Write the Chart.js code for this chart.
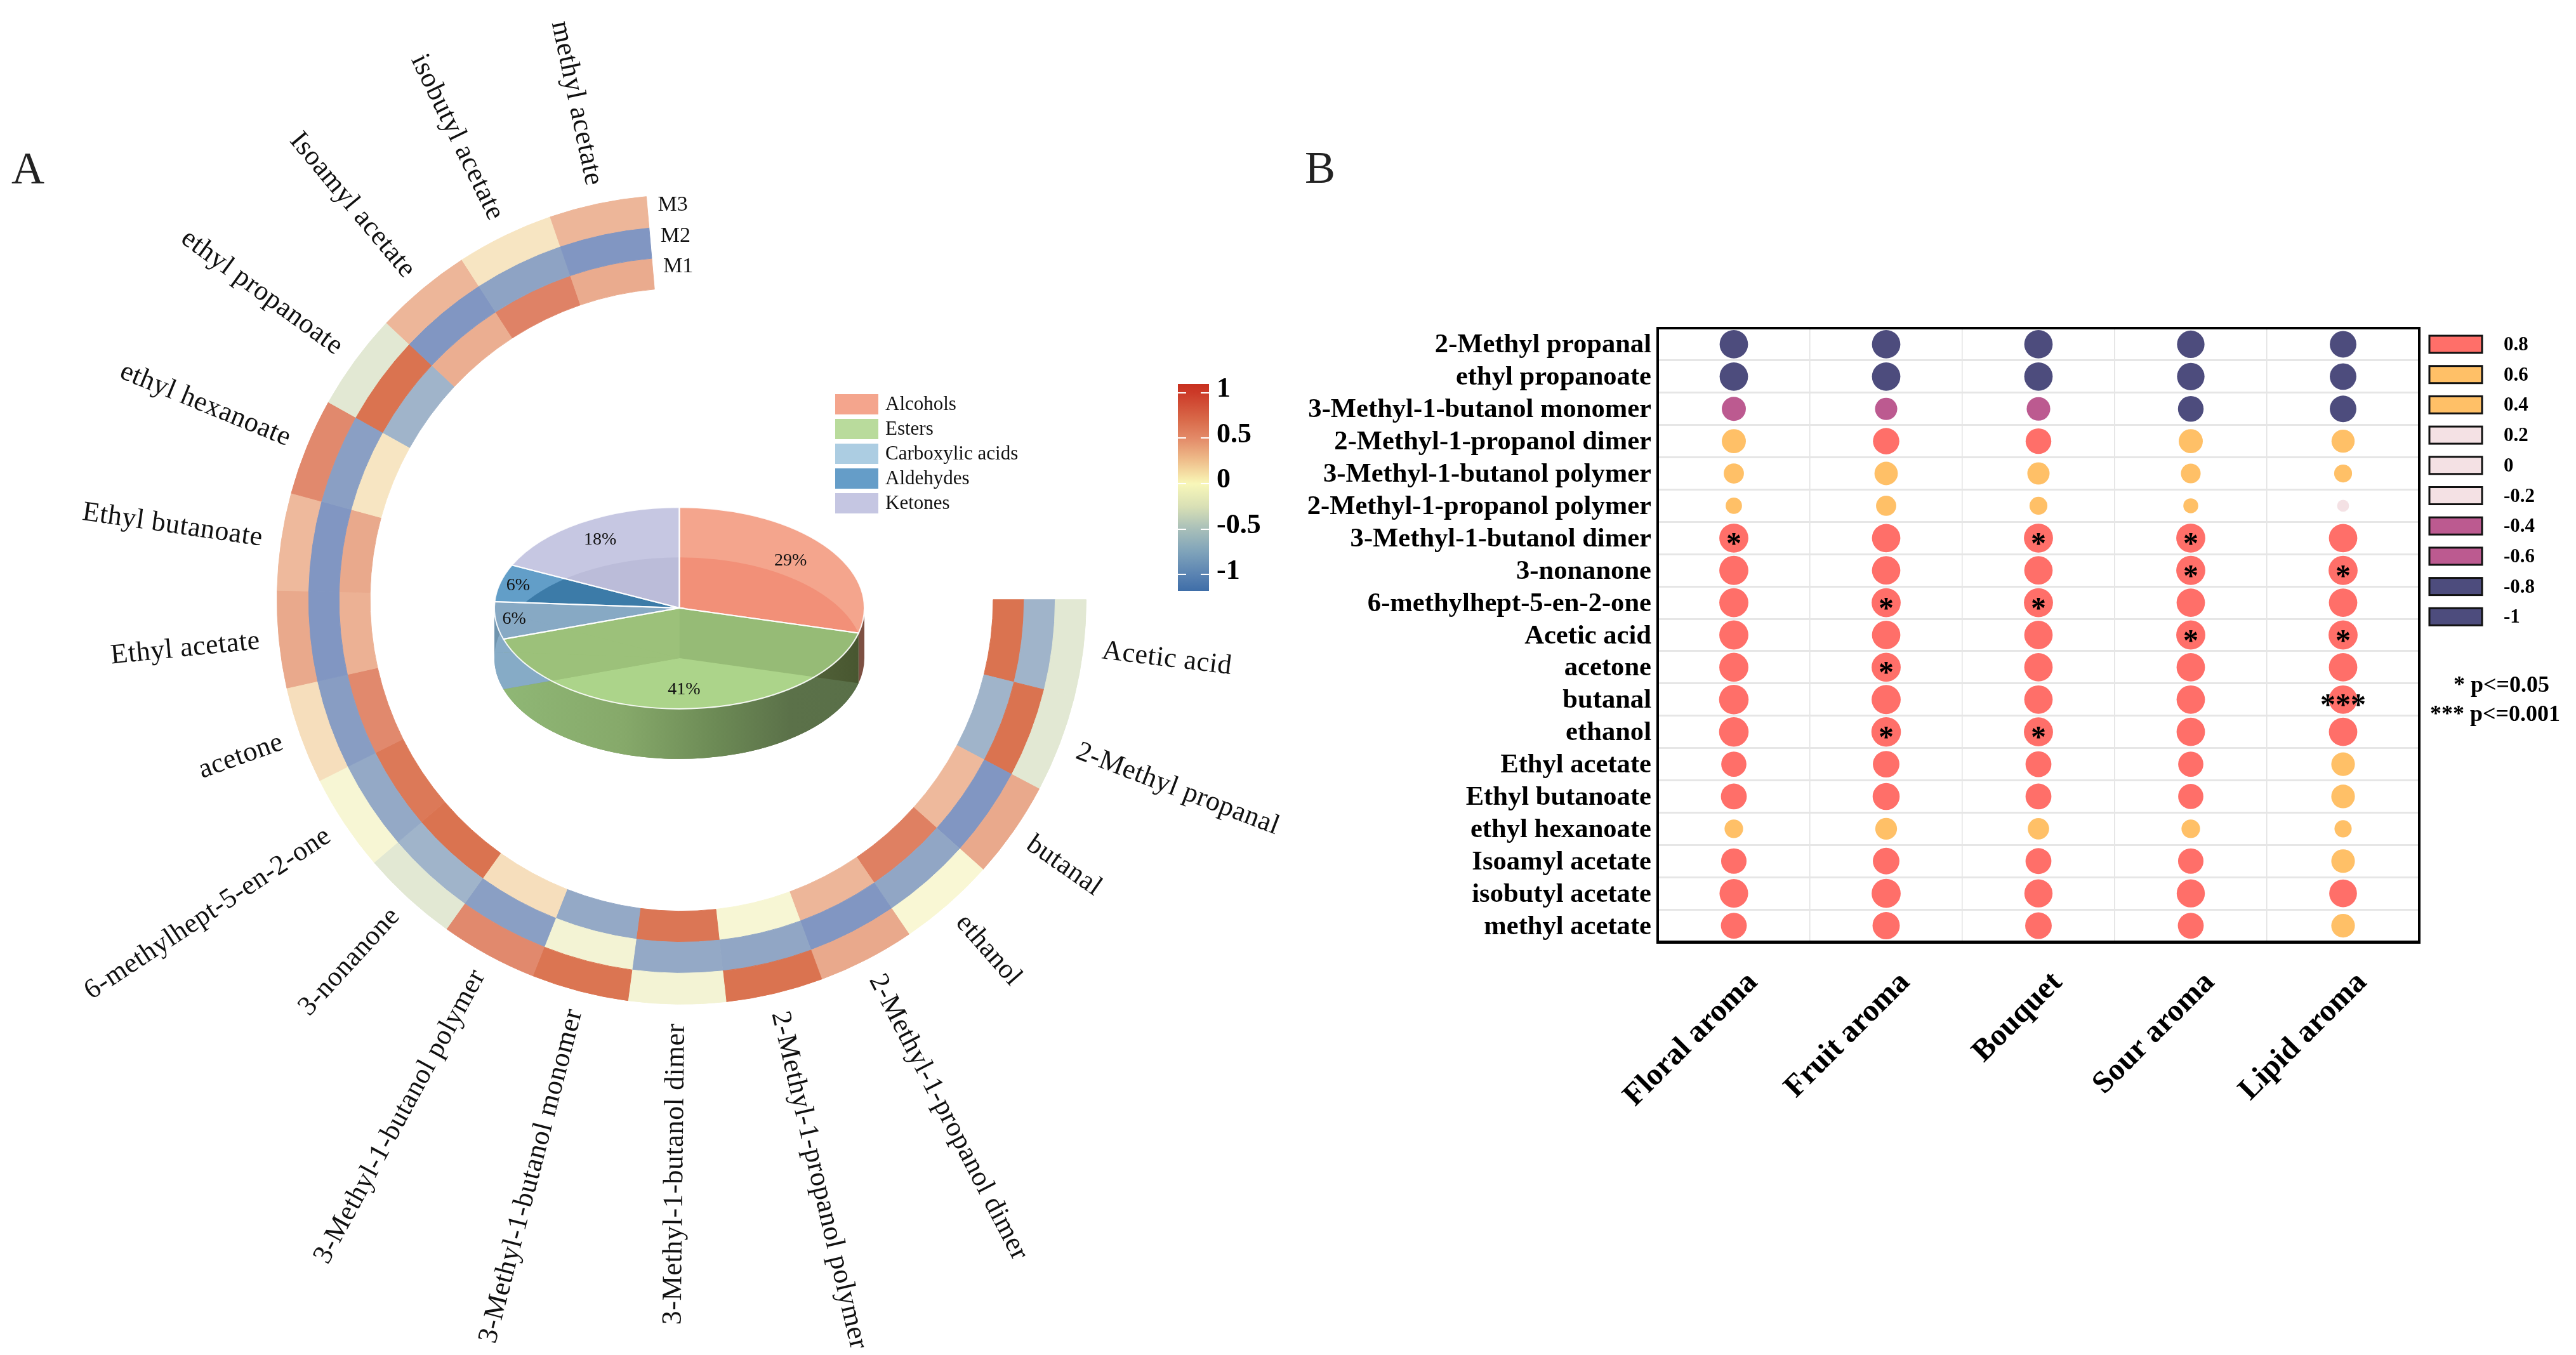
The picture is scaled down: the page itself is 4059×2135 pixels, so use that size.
<!DOCTYPE html>
<html>
<head>
<meta charset="utf-8">
<title>Aroma compounds</title>
<script src="https://cdn.jsdelivr.net/npm/chart.js@4"></script>
<style>
  html, body { margin: 0; padding: 0; background: #fff; width: 4059px; height: 2135px; overflow: hidden; }
  canvas { position: absolute; }
  .panel { position: absolute; font: 72px/72px "Liberation Serif"; color: #222; }
</style>
</head>
<body>
<div class="panel" style="left:18px;top:229px">A</div>
<div class="panel" style="left:2056px;top:228px">B</div>
<canvas id="ring" width="2100" height="2135" style="left:0;top:0"></canvas>
<canvas id="pie" width="900" height="700" style="left:760px;top:580px"></canvas>
<canvas id="colorbar" width="200" height="380" style="left:1840px;top:570px"></canvas>
<canvas id="matrix" width="2019" height="1420" style="left:2040px;top:480px"></canvas>
<script>
const SERIF = '"Liberation Serif"';

// panel A, ring heatmap, clockwise from the east end
const ringCompounds = ['Acetic acid', '2-Methyl propanal', 'butanal', 'ethanol', '2-Methyl-1-propanol dimer',
  '2-Methyl-1-propanol polymer', '3-Methyl-1-butanol dimer', '3-Methyl-1-butanol monomer', '3-Methyl-1-butanol polymer',
  '3-nonanone', '6-methylhept-5-en-2-one', 'acetone', 'Ethyl acetate', 'Ethyl butanoate', 'ethyl hexanoate',
  'ethyl propanoate', 'Isoamyl acetate', 'isobutyl acetate', 'methyl acetate'];
const m3Values = [-0.15, -0.15, 0.55, 0.05, 0.55, 0.9, 0, 0.88, 0.68, -0.15, 0.03, 0.27, 0.55, 0.45, 0.68, -0.15, 0.47, 0.22, 0.47];
const m2Values = [-0.5, 0.9, -0.8, -0.65, -0.8, -0.65, -0.62, 0, -0.72, -0.5, -0.62, -0.73, -0.8, -0.8, -0.72, 0.9, -0.8, -0.68, -0.8];
const m1Values = [0.9, -0.5, 0.45, 0.75, 0.47, 0.03, 0.86, -0.62, 0.27, 0.9, 0.83, 0.68, 0.5, 0.55, 0.22, -0.5, 0.52, 0.72, 0.54];
const ringRows = ['M3', 'M2', 'M1'];
const heatStops = [-0.8, -0.65, -0.5, -0.15, 0.05, 0.25, 0.45, 0.55, 0.7, 0.9];
const heatColors = ['#8196c2', '#91a6c5', '#a0b4ca', '#e2e8d3', '#f9f7d4', '#f7e2bf', '#eeb99c', '#e9a98c', '#e08468', '#da7350'];

// panel A, pie
const pieClasses = ['Alcohols', 'Esters', 'Carboxylic acids', 'Aldehydes', 'Ketones'];
const pieShares = [29, 41, 6, 6, 18];
const pieLegendColors = ['#f4a58d', '#b9db9c', '#accde2', '#659dc8', '#c5c6e2'];
const pieTopColors = ['#f4a58d', '#9bc078', '#87a9c4', '#629ec8', '#c6c7e2'];
const pieOverColors = ['#f29078', '#9cc17a', '#87a9c4', '#3c7ba8', '#bbbcd9'];
const pieFloorColors = [null, '#7a9a60', '#86abc6', '#86abc6', '#86abc6'];
const pieLabelReach = [0.76, 0.81, 0.9, 0.9, 0.8];

// colour bar
const barTicks = [-1, -0.5, 0, 0.5, 1];
const barMin = -1.18;
const barMax = 1.097;
const barStops = [1.097, 1, 0.7, 0.5, 0.25, 0.05, 0, -0.25, -0.5, -0.75, -1, -1.18];
const barColors = ['#c8301f', '#cc3a28', '#d96a4a', '#e38a68', '#efbf8c', '#f7ecae', '#f8f7b9', '#d9e0b5', '#a8bfb9', '#7fa3ba', '#5a83b2', '#3f6ea8'];

// panel B
const aromas = ['Floral aroma', 'Fruit aroma', 'Bouquet', 'Sour aroma', 'Lipid aroma'];
const matrixCompounds = ['2-Methyl propanal', 'ethyl propanoate', '3-Methyl-1-butanol monomer', '2-Methyl-1-propanol dimer',
  '3-Methyl-1-butanol polymer', '2-Methyl-1-propanol polymer', '3-Methyl-1-butanol dimer', '3-nonanone',
  '6-methylhept-5-en-2-one', 'Acetic acid', 'acetone', 'butanal', 'ethanol', 'Ethyl acetate', 'Ethyl butanoate',
  'ethyl hexanoate', 'Isoamyl acetate', 'isobutyl acetate', 'methyl acetate'];
const floral = [-0.91, -0.91, -0.72, 0.72, 0.55, 0.38, 0.94, 0.94, 0.94, 0.94, 0.94, 0.96, 0.96, 0.77, 0.8, 0.48, 0.78, 0.92, 0.8];
const fruit = [-0.91, -0.91, -0.64, 0.82, 0.69, 0.55, 0.91, 0.91, 0.94, 0.91, 0.94, 0.94, 0.96, 0.83, 0.85, 0.62, 0.83, 0.94, 0.86];
const bouquet = [-0.91, -0.91, -0.7, 0.79, 0.64, 0.45, 0.94, 0.91, 0.94, 0.91, 0.91, 0.91, 0.94, 0.8, 0.8, 0.6, 0.8, 0.9, 0.83];
const sour = [-0.87, -0.87, -0.79, 0.72, 0.53, 0.32, 0.94, 0.94, 0.91, 0.94, 0.91, 0.91, 0.91, 0.77, 0.77, 0.48, 0.78, 0.9, 0.8];
const lipid = [-0.83, -0.83, -0.83, 0.68, 0.45, 0.19, 0.91, 0.94, 0.91, 0.94, 0.91, 0.91, 0.91, 0.7, 0.7, 0.42, 0.7, 0.88, 0.7];
const matrixColumns = [floral, fruit, bouquet, sour, lipid];
// rows carrying a star mark, by column
const oneStar = [[6], [8, 10, 12], [6, 8, 12], [6, 7, 9], [7, 9]];
const threeStars = [[], [], [], [], [11]];
const keyValues = ['0.8', '0.6', '0.4', '0.2', '0', '-0.2', '-0.4', '-0.6', '-0.8', '-1'];
const keyColors = ['#ff6f69', '#ffc067', '#ffc067', '#f4e1e4', '#f4e1e4', '#f4e1e4', '#bc5a90', '#bc5a90', '#4d4c7d', '#4d4c7d'];
const pNotes = ['* p<=0.05', '*** p<=0.001'];

Chart.defaults.animation = false;
Chart.defaults.responsive = false;
Chart.defaults.devicePixelRatio = 1;
Chart.defaults.plugins.legend.display = false;
Chart.defaults.plugins.tooltip.enabled = false;

function hexToRgb(h) {
  return [parseInt(h.slice(1, 3), 16), parseInt(h.slice(3, 5), 16), parseInt(h.slice(5, 7), 16)];
}

function heatColor(v) {
  if (v <= heatStops[0]) return heatColors[0];
  for (let i = 1; i < heatStops.length; i++) {
    if (v <= heatStops[i]) {
      const t = (v - heatStops[i - 1]) / (heatStops[i] - heatStops[i - 1]);
      const a = hexToRgb(heatColors[i - 1]), b = hexToRgb(heatColors[i]);
      return 'rgb(' + a.map((c, k) => Math.round(c + (b[k] - c) * t)).join(',') + ')';
    }
  }
  return heatColors[heatColors.length - 1];
}

function ringDataset(name, values) {
  const colors = values.map(heatColor);
  return { label: name, data: values.map(() => 1), backgroundColor: colors, borderColor: colors, borderWidth: 1 };
}

const ringLabels = {
  id: 'ringLabels',
  afterDatasetsDraw(chart) {
    const ctx = chart.ctx;
    const arcs = chart.getDatasetMeta(0).data;
    ctx.save();
    ctx.fillStyle = '#111';
    ctx.font = '44px ' + SERIF;
    ctx.letterSpacing = '0.6px';
    ctx.textBaseline = 'middle';
    arcs.forEach((arc, i) => {
      const a = (arc.startAngle + arc.endAngle) / 2;
      const r = arc.outerRadius + 30;
      ctx.save();
      ctx.translate(arc.x + r * Math.cos(a), arc.y + r * Math.sin(a));
      if (a < Math.PI / 2) {
        ctx.rotate(a);
        ctx.textAlign = 'left';
      } else {
        ctx.rotate(a + Math.PI);
        ctx.textAlign = 'right';
      }
      ctx.fillText(ringCompounds[i], 0, 0);
      ctx.restore();
    });
    // row names beside the open end of the ring
    ctx.font = '34px ' + SERIF;
    ctx.letterSpacing = '0px';
    ctx.textAlign = 'left';
    ringRows.forEach((name, k) => {
      const meta = chart.getDatasetMeta(k).data;
      const last = meta[meta.length - 1];
      const r = (last.outerRadius + last.innerRadius) / 2;
      ctx.fillText(name, last.x + r * Math.cos(last.endAngle) + 16, last.y + r * Math.sin(last.endAngle) - 11);
    });
    ctx.restore();
  }
};

new Chart(document.getElementById('ring'), {
  type: 'doughnut',
  data: {
    labels: ringCompounds,
    datasets: [ringDataset('M3', m3Values), ringDataset('M2', m2Values), ringDataset('M1', m1Values)]
  },
  options: {
    rotation: 90,
    circumference: 265,
    cutout: '77%',
    layout: { padding: { left: 436, right: 388, top: 308, bottom: 551 } }
  },
  plugins: [ringLabels]
});

const TILT = 0.545;
const DEPTH = 79;

function slicePath(ctx, cx, cy, R, arc) {
  ctx.beginPath();
  ctx.moveTo(cx, cy);
  ctx.ellipse(cx, cy, R, R * TILT, 0, arc.startAngle, arc.endAngle);
  ctx.closePath();
}

const pie3d = {
  id: 'pie3d',
  beforeDatasetsDraw(chart) {
    const ctx = chart.ctx;
    const arcs = chart.getDatasetMeta(0).data;
    const cx = arcs[0].x, cy = arcs[0].y, R = arcs[0].outerRadius;

    const rimGrad = ctx.createLinearGradient(cx - R, 0, cx + R, 0);
    rimGrad.addColorStop(0, '#88a668');
    rimGrad.addColorStop(0.5, '#6a7f50');
    rimGrad.addColorStop(1, '#47552f');
    const floorGrad = ctx.createLinearGradient(cx - R, 0, cx + R, 0);
    floorGrad.addColorStop(0, '#90b876');
    floorGrad.addColorStop(0.35, '#86a96a');
    floorGrad.addColorStop(0.6, '#6c8a55');
    floorGrad.addColorStop(0.8, '#5b7149');
    floorGrad.addColorStop(1, '#596f48');

    const rimColors = ['#7d5042', rimGrad, '#6f94ae', '#6f94ae', '#6f94ae'];
    arcs.forEach((arc, i) => {
      const s = Math.max(arc.startAngle, 0), e = Math.min(arc.endAngle, Math.PI);
      if (e <= s) return;
      ctx.beginPath();
      ctx.ellipse(cx, cy, R, R * TILT, 0, s, e);
      ctx.ellipse(cx, cy + DEPTH, R, R * TILT, 0, e, s, true);
      ctx.closePath();
      ctx.fillStyle = rimColors[i];
      ctx.fill();
    });
    arcs.forEach((arc, i) => {
      if (!pieFloorColors[i]) return;
      slicePath(ctx, cx, cy + DEPTH, R, arc);
      ctx.fillStyle = i === 1 ? floorGrad : pieFloorColors[i];
      ctx.fill();
    });

    ctx.save();
    ctx.translate(0, cy);
    ctx.scale(1, TILT);
    ctx.translate(0, -cy);
  },
  afterDatasetsDraw(chart) {
    const ctx = chart.ctx;
    ctx.restore();
    const arcs = chart.getDatasetMeta(0).data;
    const cx = arcs[0].x, cy = arcs[0].y, R = arcs[0].outerRadius;

    // the floor of the pie shows through the top face
    arcs.forEach((top, i) => {
      arcs.forEach((low, j) => {
        ctx.save();
        slicePath(ctx, cx, cy, R, top);
        ctx.clip();
        slicePath(ctx, cx, cy + DEPTH, R, low);
        ctx.clip();
        ctx.fillStyle = i === 1 && j === 1 ? '#acd48a' : (i === 1 && j === 0 ? '#96bb76' : pieOverColors[i]);
        ctx.fillRect(cx - R, cy - R, R * 2, R * 2);
        ctx.restore();
      });
    });

    ctx.strokeStyle = 'rgba(255,255,255,0.9)';
    ctx.lineWidth = 2;
    arcs.forEach(arc => {
      slicePath(ctx, cx, cy, R, arc);
      ctx.stroke();
    });

    ctx.fillStyle = '#111';
    ctx.font = '28px ' + SERIF;
    ctx.textAlign = 'center';
    ctx.textBaseline = 'middle';
    arcs.forEach((arc, i) => {
      const a = (arc.startAngle + arc.endAngle) / 2;
      const r = R * pieLabelReach[i];
      ctx.fillText(pieShares[i] + '%', cx + r * Math.cos(a), cy + r * TILT * Math.sin(a));
    });

    // legend to the right of the pie
    const left = 1316 - 760, top = 621 - 580;
    ctx.font = '31px ' + SERIF;
    ctx.textAlign = 'left';
    pieClasses.forEach((name, i) => {
      ctx.fillStyle = pieLegendColors[i];
      ctx.fillRect(left, top + i * 39, 68, 32);
      ctx.fillStyle = '#111';
      ctx.fillText(name, left + 79, top + i * 39 + 17);
    });
  }
};

new Chart(document.getElementById('pie'), {
  type: 'pie',
  data: {
    labels: pieClasses,
    datasets: [{ data: pieShares, backgroundColor: pieTopColors, borderWidth: 0 }]
  },
  options: {
    layout: { padding: { left: 19, right: 298, top: 86.5, bottom: 30.5 } }
  },
  plugins: [pie3d]
});

new Chart(document.getElementById('colorbar'), {
  type: 'bar',
  data: {
    labels: ['r'],
    datasets: [{
      data: [[barMin, barMax]],
      borderWidth: 0,
      barPercentage: 1,
      categoryPercentage: 1,
      backgroundColor: context => {
        const chart = context.chart;
        if (!chart.chartArea) return '#ccc';
        const y = chart.scales.y;
        const g = chart.ctx.createLinearGradient(0, y.getPixelForValue(barMax), 0, y.getPixelForValue(barMin));
        barStops.forEach((v, i) => g.addColorStop((barMax - v) / (barMax - barMin), barColors[i]));
        return g;
      }
    }]
  },
  options: {
    layout: { padding: { left: 16, right: 0, top: 35, bottom: 19 } },
    scales: {
      x: { display: false },
      y: {
        position: 'right',
        min: barMin,
        max: barMax,
        afterBuildTicks: scale => { scale.ticks = barTicks.map(v => ({ value: v })); },
        afterFit: scale => {
          scale.width = 135;
          scale.paddingTop = 0;
          scale.paddingBottom = 0;
        },
        border: { display: false, dash: [13, 23, 13] },
        grid: { z: 1, color: '#fff', lineWidth: 2, drawTicks: false },
        ticks: {
          padding: 12,
          labelOffset: -5,
          color: '#000',
          autoSkip: false,
          font: { family: 'Liberation Serif', size: 44, weight: 'bold' },
          callback: v => String(v)
        }
      }
    }
  }
});

function dotColor(v) {
  if (v >= 0.75) return keyColors[0];
  if (v >= 0.3) return keyColors[1];
  if (v > -0.3) return keyColors[4];
  if (v > -0.75) return keyColors[6];
  return keyColors[8];
}

const matrixExtras = {
  id: 'matrixExtras',
  beforeDatasetsDraw(chart) {
    const ctx = chart.ctx, a = chart.chartArea;
    ctx.save();
    ctx.strokeStyle = '#000';
    ctx.lineWidth = 4;
    ctx.strokeRect(a.left, a.top, a.right - a.left, a.bottom - a.top);
    ctx.fillStyle = '#000';
    ctx.fillRect(a.left - 2, a.bottom - 2, a.right - a.left + 4, 5);
    ctx.restore();
  },
  afterDatasetsDraw(chart) {
    const ctx = chart.ctx;
    ctx.save();
    ctx.fillStyle = '#000';
    ctx.textAlign = 'center';
    ctx.textBaseline = 'alphabetic';
    ctx.font = 'bold 48px ' + SERIF;
    aromas.forEach((name, c) => {
      const pts = chart.getDatasetMeta(c).data;
      oneStar[c].forEach(r => ctx.fillText('*', pts[r].x, pts[r].y + 24));
      threeStars[c].forEach(r => ctx.fillText('***', pts[r].x, pts[r].y + 24));
    });

    // colour key
    const keyLeft = 3828 - 2040, keyTop = 529 - 480;
    ctx.textAlign = 'left';
    ctx.textBaseline = 'middle';
    ctx.font = 'bold 31px ' + SERIF;
    keyValues.forEach((label, i) => {
      const y = keyTop + i * 47.7;
      ctx.fillStyle = keyColors[i];
      ctx.fillRect(keyLeft, y, 83, 27);
      ctx.strokeStyle = '#111';
      ctx.lineWidth = 3;
      ctx.strokeRect(keyLeft, y, 83, 27);
      ctx.fillStyle = '#000';
      ctx.fillText(label, keyLeft + 117, y + 15);
    });

    ctx.font = 'bold 36px ' + SERIF;
    ctx.textAlign = 'right';
    pNotes.forEach((note, i) => ctx.fillText(note, 4017 - 2040 + i * 17, 1081 - 480 + i * 46));
    ctx.restore();
  }
};

new Chart(document.getElementById('matrix'), {
  type: 'bubble',
  data: {
    datasets: aromas.map((name, c) => ({
      label: name,
      data: matrixColumns[c].map((v, r) => ({ x: name, y: matrixCompounds[r], r: 6 + 18 * Math.abs(v) })),
      backgroundColor: matrixColumns[c].map(dotColor),
      borderWidth: 0
    }))
  },
  options: {
    layout: { padding: { left: 0, right: 247, top: 37, bottom: 116 } },
    scales: {
      x: {
        type: 'category',
        labels: aromas,
        offset: true,
        afterFit: scale => { scale.height = 300; },
        border: { display: false },
        grid: { offset: true, color: '#e2e2e2', lineWidth: 1.5, drawTicks: false },
        ticks: {
          color: '#000',
          padding: 36,
          minRotation: 45,
          maxRotation: 45,
          labelOffset: 30,
          font: { family: 'Liberation Serif', size: 49, weight: 'bold' }
        }
      },
      y: {
        type: 'category',
        labels: matrixCompounds,
        offset: true,
        afterFit: scale => { scale.width = 572; },
        border: { display: false },
        grid: { offset: true, color: '#e6e6e6', lineWidth: 3, drawTicks: false },
        ticks: {
          color: '#000',
          padding: 10,
          labelOffset: 2,
          autoSkip: false,
          font: { family: 'Liberation Serif', size: 42.6, weight: 'bold' }
        }
      }
    }
  },
  plugins: [matrixExtras]
});
</script>
</body>
</html>
